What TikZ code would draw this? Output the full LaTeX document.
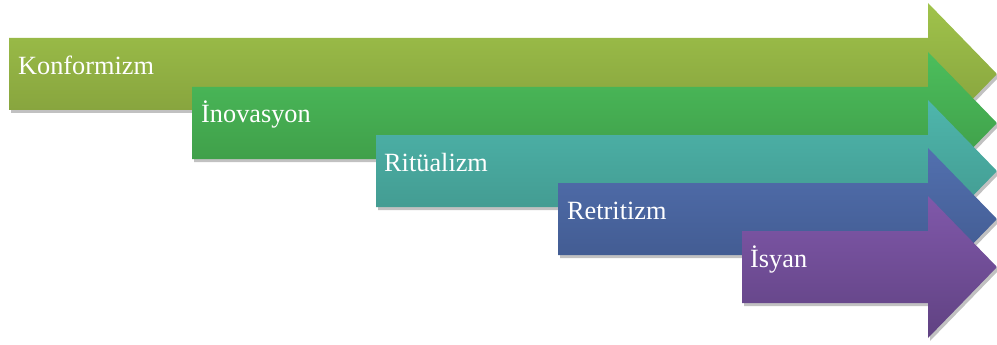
\documentclass[tikz,border=0pt]{standalone}
\usepackage{fontspec}
\setmainfont{Liberation Serif}
\usetikzlibrary{shadows}
\definecolor{aT}{RGB}{160,195,75}\definecolor{aB}{RGB}{128,155,58}
\definecolor{bT}{RGB}{76,190,92}\definecolor{bB}{RGB}{60,150,68}
\definecolor{cT}{RGB}{78,182,172}\definecolor{cB}{RGB}{64,148,138}
\definecolor{dT}{RGB}{82,112,175}\definecolor{dB}{RGB}{62,86,138}
\definecolor{eT}{RGB}{128,88,170}\definecolor{eB}{RGB}{96,66,130}
\tikzset{
  arrowshape/.style={drop shadow={opacity=0.3,shadow xshift=2pt,shadow yshift=-3pt,fill=black!80}},
  lbl/.style={anchor=base west,text=white,font=\fontsize{26.3}{29}\selectfont,inner sep=0pt}
}
\newcommand{\myarrow}[5]{% #1 left x, #2 top y(img), #3 top col, #4 bottom col, #5 name
  \shade[arrowshape,top color=#3,bottom color=#4]
    (#1,#2) -- (928,#2) -- (928,#2-35) -- (997,#2+36) -- (928,#2+107) -- (928,#2+72) -- (#1,#2+72) -- cycle;
}
\begin{document}
\begin{tikzpicture}[x=1pt,y=-1pt]
\useasboundingbox (0,0) rectangle (997,345);
\myarrow{9}{38}{aT}{aB}{a}
\node[lbl] (ta) at (18,75) {Konformizm};
\myarrow{192}{87}{bT}{bB}{b}
\node[lbl] (tb) at (201,123) {İnovasyon};
\myarrow{376}{135}{cT}{cB}{c}
\node[lbl] (tc) at (384,171) {Ritüalizm};
\myarrow{558}{183}{dT}{dB}{d}
\node[lbl] (td) at (567,219) {Retritizm};
\myarrow{742}{231}{eT}{eB}{e}
\node[lbl] (te) at (750,267) {İsyan};
\end{tikzpicture}
\end{document}
